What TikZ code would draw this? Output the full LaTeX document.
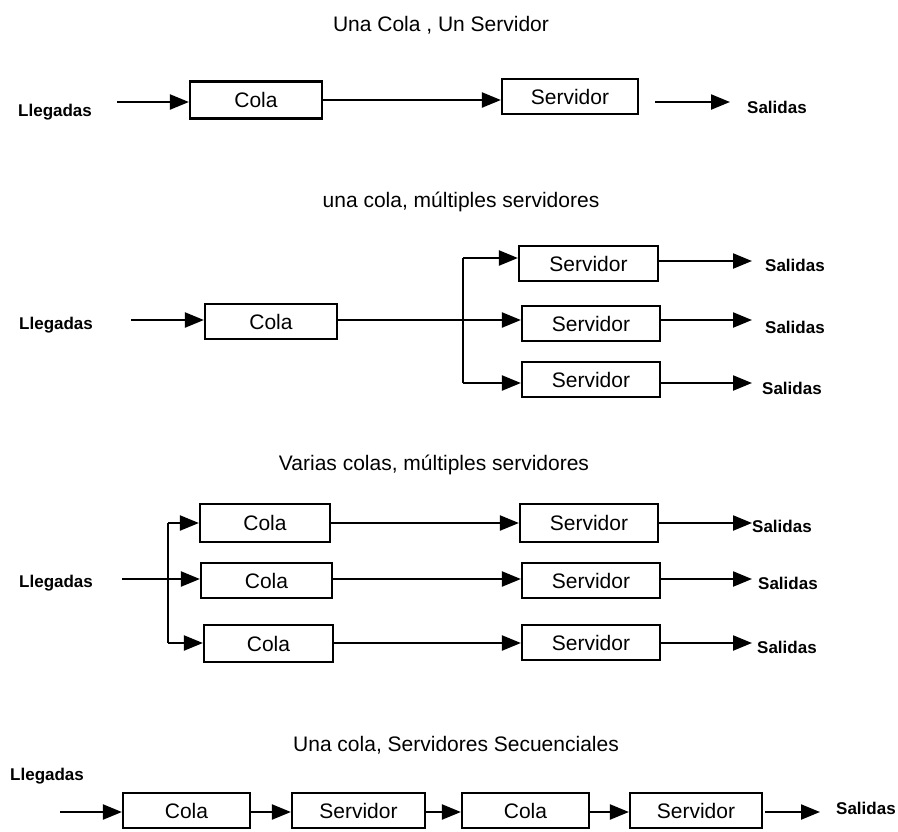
\documentclass[tikz,border=0pt]{standalone}
\usepackage{fontspec}
\setmainfont{Liberation Sans}
\newfontfamily\lblfont{Liberation Sans Bold}
\usetikzlibrary{arrows.meta}
\begin{document}
\begin{tikzpicture}[x=1pt,y=-1pt,
  box/.style={draw,line width=2.2pt,inner sep=0pt,font=\fontsize{21}{24}\selectfont},
  ttl/.style={inner sep=0pt,font=\fontsize{21}{24}\selectfont},
  lbl/.style={inner sep=0pt,font=\lblfont\fontsize{17}{20}\selectfont},
  ln/.style={line width=2.2pt},
  arr/.style={line width=2.2pt,-{Triangle[length=19pt,width=15pt]}}]
\useasboundingbox (0,0) rectangle (898,831);
% ---------- Section 1
\node[ttl] (t1) at (441,25) {Una Cola , Un Servidor};
\node[lbl,anchor=west] (l1) at (18,112) {Llegadas};
\node[box,minimum width=132,minimum height=37] (c1) at (256,100) {Cola};
\node[box,minimum width=136,minimum height=35] (s1) at (570,96.5) {Servidor};
\node[lbl,anchor=west] (o1) at (747,107) {Salidas};
\coordinate (a1) at (117,102);
\draw[arr] (a1) -- (a1 -| c1.west);
\draw[arr] (c1.east) -- (c1.east -| s1.west);
\coordinate (b1) at (655,102);
\coordinate (e1) at (730,102);
\draw[arr] (b1) -- (e1);
% ---------- Section 2
\node[ttl] (t2) at (461,202) {una cola, múltiples servidores};
\node[lbl,anchor=west] (l2) at (19,325) {Llegadas};
\node[box,minimum width=132,minimum height=35] (c2) at (271,321.5) {Cola};
\node[box,minimum width=139,minimum height=35] (s2a) at (588.5,263.5) {Servidor};
\node[box,minimum width=138,minimum height=35] (s2b) at (591,323.5) {Servidor};
\node[box,minimum width=138,minimum height=35] (s2c) at (591,379.5) {Servidor};
\node[lbl,anchor=west] (o2a) at (765,265) {Salidas};
\node[lbl,anchor=west] (o2b) at (765,327) {Salidas};
\node[lbl,anchor=west] (o2c) at (762,388) {Salidas};
\coordinate (a2) at (131,320);
\draw[arr] (a2) -- (a2 -| c2.west);
\coordinate (j2) at (463,320);
\coordinate (j2t) at (463,258);
\coordinate (j2b) at (463,383);
\draw[ln] (c2.east |- j2) -- (j2);
\draw[ln] (j2t) -- (j2b);
\draw[arr] (j2t) -- (j2t -| s2a.west);
\draw[arr] (j2) -- (j2 -| s2b.west);
\draw[arr] (j2b) -- (j2b -| s2c.west);
\coordinate (e2a) at (752,261);
\coordinate (e2b) at (752,320);
\coordinate (e2c) at (752,383);
\draw[arr] (e2a -| s2a.east) -- (e2a);
\draw[arr] (e2b -| s2b.east) -- (e2b);
\draw[arr] (e2c -| s2c.east) -- (e2c);
% ---------- Section 3
\node[ttl] (t3) at (434,465) {Varias colas, múltiples servidores};
\node[lbl,anchor=west] (l3) at (19,583) {Llegadas};
\node[box,minimum width=130,minimum height=38] (q3a) at (265,523) {Cola};
\node[box,minimum width=131,minimum height=35] (q3b) at (266.5,580.5) {Cola};
\node[box,minimum width=129,minimum height=37] (q3c) at (268.5,643.5) {Cola};
\node[box,minimum width=138,minimum height=38] (s3a) at (589,523) {Servidor};
\node[box,minimum width=138,minimum height=35] (s3b) at (591,580.5) {Servidor};
\node[box,minimum width=138,minimum height=35] (s3c) at (591,642.5) {Servidor};
\node[lbl,anchor=west] (o3a) at (752,526) {Salidas};
\node[lbl,anchor=west] (o3b) at (758,583) {Salidas};
\node[lbl,anchor=west] (o3c) at (757,647) {Salidas};
\coordinate (a3) at (122,579);
\coordinate (j3t) at (168,523);
\coordinate (j3b) at (168,643);
\draw[arr] (a3) -- (a3 -| q3b.west);
\draw[ln] (j3t) -- (j3b);
\draw[arr] (j3t) -- (j3t -| q3a.west);
\draw[arr] (j3b) -- (j3b -| q3c.west);
\draw[arr] (q3a.east) -- (q3a.east -| s3a.west);
\draw[arr] (q3b.east |- 0,579) -- (s3b.west |- 0,579);
\draw[arr] (q3c.east |- 0,643) -- (s3c.west |- 0,643);
\draw[arr] (s3a.east) -- (o3a.west |- s3a.east);
\coordinate (e3b) at (752,579);
\coordinate (e3c) at (752,643);
\draw[arr] (e3b -| s3b.east) -- (e3b);
\draw[arr] (e3c -| s3c.east) -- (e3c);
% ---------- Section 4
\node[ttl] (t4) at (456,745) {Una cola, Servidores Secuenciales};
\node[lbl,anchor=west] (l4) at (10,776) {Llegadas};
\node[box,minimum width=127,minimum height=35] (r1) at (186.5,810.5) {Cola};
\node[box,minimum width=133,minimum height=35] (r2) at (358.5,810.5) {Servidor};
\node[box,minimum width=127,minimum height=35] (r3) at (525.5,810.5) {Cola};
\node[box,minimum width=132,minimum height=35] (r4) at (696,810.5) {Servidor};
\node[lbl,anchor=west] (o4) at (836,808) {Salidas};
\coordinate (a4) at (60,812);
\draw[arr] (a4) -- (a4 -| r1.west);
\draw[arr] (r1.east |- a4) -- (r2.west |- a4);
\draw[arr] (r2.east |- a4) -- (r3.west |- a4);
\draw[arr] (r3.east |- a4) -- (r4.west |- a4);
\coordinate (b4) at (765,812);
\coordinate (e4) at (820,812);
\draw[arr] (b4) -- (e4);
\end{tikzpicture}
\end{document}
